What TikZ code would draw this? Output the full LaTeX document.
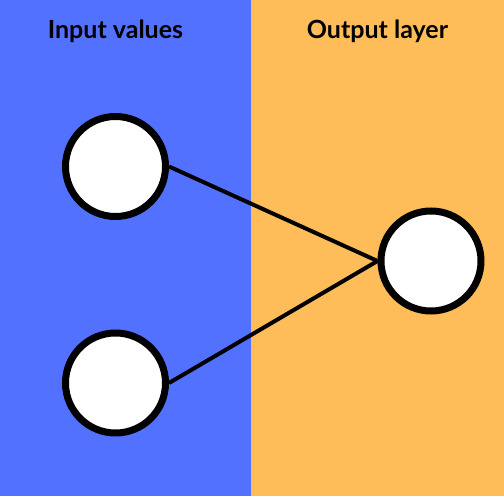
\documentclass[tikz,border=0pt]{standalone}
\usepackage{fontspec}
\setmainfont{Lato}
\definecolor{inputblue}{HTML}{5271FF}
\definecolor{outputorange}{HTML}{FFBD59}
\begin{document}
\begin{tikzpicture}[x=1pt, y=-1pt, font=\bfseries\fontsize{25}{28}\selectfont]
    % Node styles
    \tikzset{neuron/.style={circle,draw=black,fill=white,line width=7pt,minimum size=100pt,inner sep=0pt},
             link/.style={line width=4pt}}

    % Background panels
    \useasboundingbox[fill=white] (0,0) rectangle (504,497);
    \fill[inputblue] (0,0) rectangle (251,496);
    \fill[outputorange] (251,0) rectangle (504,496);

    % Column titles
    \node[anchor=base] (title_in) at (115.5, 39) {Input values};
    \node[anchor=base] (title_out) at (377.5, 39) {Output layer};

    % Input neurons
    \node[neuron] (x1) at (115.5, 166.5) {};
    \node[neuron] (x2) at (115.5, 383) {};

    % Output neuron
    \node[neuron] (y) at (431, 261) {};

    % Connections
    \draw[link] (x1.east) -- (y.west);
    \draw[link] (x2.east) -- (y.west);
\end{tikzpicture}
\end{document}
